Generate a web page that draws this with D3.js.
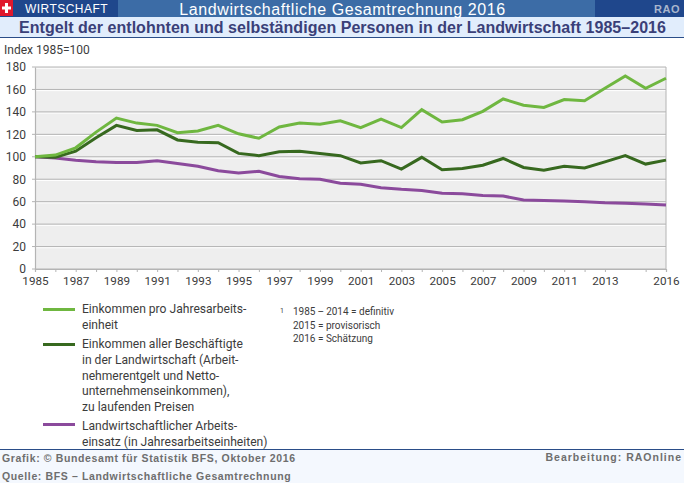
<!DOCTYPE html>
<html>
<head>
<meta charset="utf-8">
<script src="https://cdn.jsdelivr.net/npm/d3@7"></script>
<style>
  html, body { margin: 0; padding: 0; background: #fff; }
  svg { display: block; }
</style>
</head>
<body>
<svg id="chart" width="684" height="483"></svg>
<script>
const years = d3.range(1985, 2017);
const perUnit = [100, 101.5, 108, 122, 134.5, 130, 128, 121.5, 123, 128, 120.5, 116.5, 126.5, 130, 129, 132, 126, 133.5, 126, 142, 131, 133, 140.5, 151.5, 146, 144, 151, 150, 161, 172, 161, 170];
const allEmployed = [100, 99.5, 105, 117, 128, 123.5, 124, 115, 113, 112.5, 103, 101, 104.5, 105, 103, 101, 94.5, 96.5, 89, 99.5, 88.5, 89.5, 92.5, 98.5, 90.5, 88, 91.5, 90, 95.5, 101, 93.5, 97];
const labour = [100, 99, 97, 95.5, 95, 94.8, 96.5, 94, 91.5, 87.5, 85.5, 87, 82.5, 80.5, 80, 76.5, 75.5, 72.5, 71, 70, 67.5, 67, 65.5, 65, 61.5, 61, 60.5, 60, 59, 58.5, 58, 57];
const yTicks = [0, 20, 40, 60, 80, 100, 120, 140, 160, 180];
const xLabels = [1985, 1987, 1989, 1991, 1993, 1995, 1997, 1999, 2001, 2003, 2005, 2007, 2009, 2011, 2013, 2016];
const legendPerUnit = ["Einkommen pro Jahresarbeits-", "einheit"];
const legendAll = ["Einkommen aller Beschäftigte", "in der Landwirtschaft (Arbeit-", "nehmerentgelt und Netto-", "unternehmenseinkommen),", "zu laufenden Preisen"];
const legendLabour = ["Landwirtschaftlicher Arbeits-", "einsatz (in Jahresarbeitseinheiten)"];
const noteLines = ["1985\u2009–\u20092014 = definitiv", "2015 = provisorisch", "2016 = Schätzung"];

const svg = d3.select("#chart");
const arial = "'Liberation Sans', Arial, sans-serif";
const chartFont = "Roboto, sans-serif";
const textCol = "#3c3c3c";

// header bars
svg.append("rect").attr("x", 0).attr("y", 0).attr("width", 684).attr("height", 17).attr("fill", "#3c6ca6");
svg.append("rect").attr("x", 0).attr("y", 0).attr("width", 118).attr("height", 17).attr("fill", "#1f478c");
svg.append("rect").attr("x", 595).attr("y", 0).attr("width", 89).attr("height", 17).attr("fill", "#1f478c");
svg.append("rect").attr("x", 0).attr("y", 0).attr("width", 13).attr("height", 16).attr("fill", "#e0182d");
svg.append("rect").attr("x", 5).attr("y", 3).attr("width", 3).attr("height", 10).attr("fill", "#fff");
svg.append("rect").attr("x", 2).attr("y", 6.5).attr("width", 9).attr("height", 3).attr("fill", "#fff");
svg.append("rect").attr("x", 0).attr("y", 17).attr("width", 684).attr("height", 20).attr("fill", "#e1edfc");
svg.append("rect").attr("x", 0).attr("y", 37).attr("width", 684).attr("height", 1).attr("fill", "#2a4d88");

svg.append("text").attr("x", 25).attr("y", 13).attr("font-family", arial).attr("font-size", 12).attr("letter-spacing", 0.45).attr("fill", "#fff").text("WIRTSCHAFT");
svg.append("text").attr("x", 342.5).attr("y", 14.5).attr("text-anchor", "middle").attr("font-family", arial).attr("font-size", 16).attr("letter-spacing", 0.59).attr("fill", "#fff").text("Landwirtschaftliche Gesamtrechnung 2016");
svg.append("text").attr("x", 667).attr("y", 13).attr("text-anchor", "middle").attr("font-family", arial).attr("font-weight", "bold").attr("font-size", 11).attr("letter-spacing", 0.5).attr("fill", "#a9b6cc").text("RAO");
svg.append("text").attr("x", 342.5).attr("y", 33).attr("text-anchor", "middle").attr("font-family", arial).attr("font-weight", "bold").attr("font-size", 16).attr("letter-spacing", 0.04).attr("fill", "#3a4078").text("Entgelt der entlohnten und selbständigen Personen in der Landwirtschaft 1985–2016");

// plot
const x = d3.scaleLinear().domain([1985, 2016]).range([35, 666]);
const y = d3.scaleLinear().domain([0, 180]).range([269, 67]);

svg.append("rect").attr("x", x(1985)).attr("y", y(180)).attr("width", x(2016) - x(1985)).attr("height", y(0) - y(180)).attr("fill", "#eeeeee");

const grid = svg.append("g");
yTicks.forEach(t => {
  grid.append("line").attr("x1", x(1985)).attr("x2", x(2016)).attr("y1", y(t) + 1.2).attr("y2", y(t) + 1.2).attr("stroke", "#fff").attr("stroke-width", 1);
  grid.append("line").attr("x1", x(1985) - 3).attr("x2", x(2016)).attr("y1", y(t)).attr("y2", y(t)).attr("stroke", "#b4b4b4").attr("stroke-width", 1);
});

const yAxis = svg.append("g")
  .attr("transform", `translate(${x(1985)},0)`)
  .call(d3.axisLeft(y).tickValues(yTicks).tickSize(0).tickPadding(9));
yAxis.select(".domain").attr("stroke", "#b4b4b4").attr("stroke-width", 1.2);
yAxis.selectAll("text").attr("font-family", chartFont).attr("font-size", 12).attr("fill", textCol);

svg.append("line").attr("x1", x(2016)).attr("x2", x(2016)).attr("y1", y(180)).attr("y2", y(0)).attr("stroke", "#b4b4b4");

const xAxis = svg.append("g")
  .attr("transform", `translate(0,${y(0)})`)
  .call(d3.axisBottom(x).tickValues(years.filter(d => d !== 2014)).tickSize(3).tickPadding(5).tickFormat(d => xLabels.includes(d) ? String(d) : ""));
xAxis.select(".domain").attr("stroke", "#b4b4b4").attr("stroke-width", 1.2);
xAxis.selectAll("line").attr("stroke", "#b4b4b4");
xAxis.selectAll("text").attr("font-family", chartFont).attr("font-size", 11.7).attr("fill", textCol);

svg.append("text").attr("x", 4).attr("y", 54).attr("font-family", chartFont).attr("font-size", 12).attr("fill", textCol).text("Index 1985=100");

const line = d3.line().x((d, i) => x(years[i])).y(d => y(d));
const series = [[labour, "#8b4a9c"], [allEmployed, "#37691f"], [perUnit, "#6fb740"]];
series.forEach(([vals, col]) => {
  svg.append("path").datum(vals).attr("fill", "none").attr("stroke", col).attr("stroke-width", 3).attr("stroke-linejoin", "miter").attr("d", line);
});

// legend
function legendEntry(lines, col, top, base) {
  svg.append("rect").attr("x", 43).attr("y", top).attr("width", 32).attr("height", 3).attr("fill", col);
  lines.forEach((l, i) => {
    svg.append("text").attr("x", 82).attr("y", base + i * 15.8).attr("font-family", chartFont).attr("font-size", 12.1).attr("fill", textCol).text(l);
  });
}
legendEntry(legendPerUnit, "#6fb740", 308, 313);
legendEntry(legendAll, "#37691f", 343, 348);
legendEntry(legendLabour, "#8b4a9c", 423, 430);

svg.append("text").attr("x", 280).attr("y", 313).attr("font-family", chartFont).attr("font-size", 7).attr("fill", textCol).text("1");
noteLines.forEach((l, i) => {
  svg.append("text").attr("x", 293).attr("y", 315.3 + i * 13.5).attr("font-family", chartFont).attr("font-size", 10).attr("fill", textCol).text(l);
});

// footer
svg.append("rect").attr("x", 0).attr("y", 449).attr("width", 684).attr("height", 34).attr("fill", "#f4f8fe");
svg.append("rect").attr("x", 0).attr("y", 449).attr("width", 684).attr("height", 1).attr("fill", "#2a4d88");
const footer = (txt, xp, yp, anchor, sp) => svg.append("text").attr("x", xp).attr("y", yp).attr("text-anchor", anchor || "start").attr("font-family", arial).attr("font-weight", "bold").attr("font-size", 10.5).attr("letter-spacing", sp || 0.63).attr("fill", "#6e6e6e").text(txt);
footer("Grafik: © Bundesamt für Statistik BFS, Oktober 2016", 2, 462);
footer("Quelle: BFS – Landwirtschaftliche Gesamtrechnung", 2, 480);
footer("Bearbeitung: RAOnline", 682, 461, "end", 1);
</script>
</body>
</html>
